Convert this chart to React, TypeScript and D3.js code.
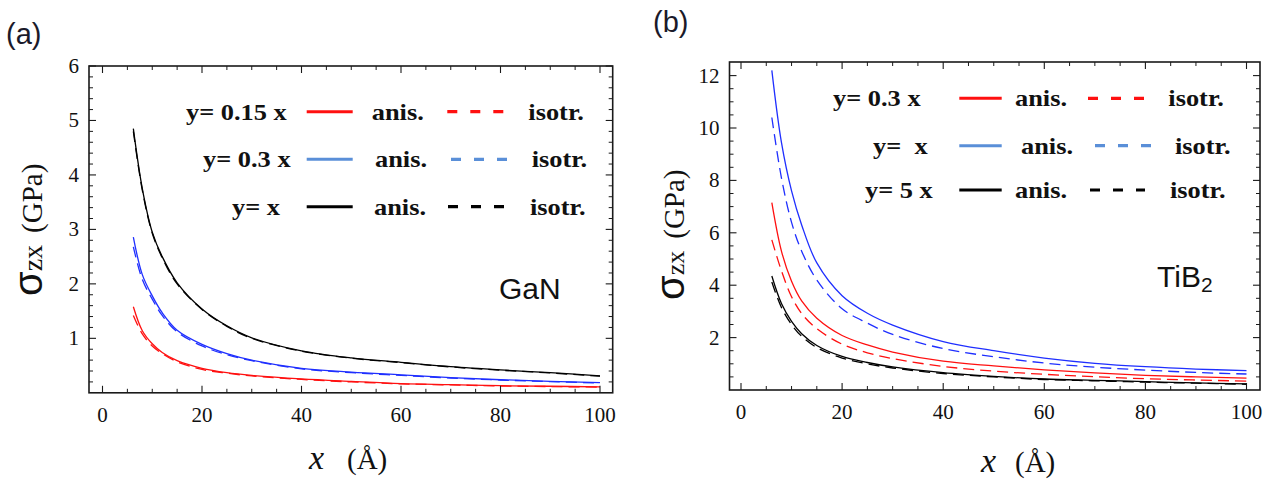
import React from "react";
import * as d3 from "d3";

// ---------------- DATA ----------------
const xTickValues = [0, 20, 40, 60, 80, 100];
const ganYTickValues = [1, 2, 3, 4, 5, 6];
const tib2YTickValues = [2, 4, 6, 8, 10, 12];

// Panel (a) GaN
const ganX = [6.2, 8, 10, 12, 15, 20, 25, 30, 40, 50, 60, 70, 80, 90, 100];
const ganRedAnis = [1.58, 1.14, 0.9, 0.74, 0.59, 0.45, 0.37, 0.32, 0.255, 0.21, 0.17, 0.15, 0.13, 0.12, 0.11];
const ganRedIso = [1.42, 1.08, 0.86, 0.72, 0.57, 0.43, 0.36, 0.31, 0.245, 0.2, 0.165, 0.145, 0.125, 0.115, 0.105];
const ganBlueAnis = [2.86, 2.17, 1.78, 1.47, 1.15, 0.89, 0.72, 0.6, 0.45, 0.38, 0.33, 0.28, 0.24, 0.21, 0.185];
const ganBlueIso = [2.68, 2.08, 1.72, 1.42, 1.12, 0.86, 0.7, 0.59, 0.44, 0.37, 0.32, 0.27, 0.235, 0.205, 0.18];
const ganBlackAnis = [4.85, 3.75, 2.95, 2.5, 2.02, 1.54, 1.23, 1.01, 0.77, 0.64, 0.56, 0.48, 0.42, 0.37, 0.31];
const ganBlackIso = [4.8, 3.72, 2.93, 2.48, 2.0, 1.53, 1.22, 1.0, 0.765, 0.635, 0.555, 0.475, 0.415, 0.365, 0.305];

// Panel (b) TiB2
const tibX = [6.1, 8, 10, 12, 15, 20, 25, 30, 40, 50, 60, 70, 80, 90, 100];
const tibRedAnis = [7.15, 5.3, 4.15, 3.4, 2.74, 2.08, 1.72, 1.45, 1.1, 0.92, 0.77, 0.65, 0.56, 0.5, 0.45];
const tibRedIso = [5.73, 4.55, 3.56, 2.92, 2.34, 1.75, 1.42, 1.2, 0.9, 0.72, 0.6, 0.51, 0.43, 0.38, 0.34];
const tibBlueAnis = [12.2, 9.45, 7.6, 6.3, 4.85, 3.6, 2.93, 2.48, 1.85, 1.5, 1.22, 1.02, 0.89, 0.8, 0.74];
const tibBlueIso = [10.4, 8.1, 6.4, 5.3, 4.2, 3.1, 2.55, 2.12, 1.58, 1.27, 1.03, 0.87, 0.76, 0.67, 0.61];
const tibBlackAnis = [4.35, 3.3, 2.62, 2.15, 1.7, 1.28, 1.05, 0.88, 0.66, 0.52, 0.42, 0.37, 0.32, 0.27, 0.23];
const tibBlackIso = [4.12, 3.15, 2.5, 2.05, 1.62, 1.22, 1.0, 0.84, 0.63, 0.5, 0.4, 0.35, 0.3, 0.26, 0.22];

const ganLegendLabels = ["y= 0.15 x", "y= 0.3 x", "y= x"];
const tibLegendLabels = ["y= 0.3 x", "y=  x", "y= 5 x"];
const legendAnisText = "anis.";
const legendIsoText = "isotr.";

// ---------------- STYLE ----------------
const RED = "#ff1010";
const BLUE = "#1f2fff";
const LEGEND_BLUE = "#5a8fd8";
const BLACK = "#000000";
const FRAME = "#1a1a1a";
const SERIF = "'Liberation Serif', 'Times New Roman', serif";
const SANS = "'Liberation Sans', Arial, sans-serif";

type Series = { xs: number[]; ys: number[]; color: string; dashed: boolean };

type PanelProps = {
  frame: { l: number; t: number; r: number; b: number };
  x0: number; x100: number;
  yMax: number; yTop: number; yBottom: number;
  yTicks: number[];
  yMinorStep: number;
  series: Series[];
  legend: {
    labels: string[];
    labelX: number[];
    rowY: number[];
    lineX: [number, number][];
    anisX: number[];
    dashX: [number, number][];
    isoX: number[];
    colors: string[];
  };
  material: React.ReactNode;
};

function LegendText({ x, y, children }: { x: number; y: number; children: React.ReactNode }) {
  return (
    <text
      transform={`translate(${x},${y}) scale(1.1,1)`}
      fontFamily={SERIF}
      fontWeight="bold"
      fontSize={24}
      fill="#111"
      style={{ whiteSpace: "pre" }}
    >
      {children}
    </text>
  );
}

function Panel(p: PanelProps) {
  const { frame } = p;
  const x = d3.scaleLinear().domain([0, 100]).range([p.x0, p.x100]);
  const y = d3.scaleLinear().domain([0, p.yMax]).range([p.yBottom, p.yTop]);
  const xMinor = d3.range(0, 101, 5).filter((v) => v % 20 !== 0);
  const yMinor = d3
    .range(p.yMinorStep, p.yMax + 1e-6, p.yMinorStep)
    .filter((v) => !p.yTicks.some((t) => Math.abs(t - v) < 1e-6))
    .filter((v) => y(v) > frame.t + 1);
  const line = d3
    .line<[number, number]>()
    .x((d) => x(d[0]))
    .y((d) => y(d[1]))
    .curve(d3.curveCatmullRom.alpha(0.5));
  const MAJ = 7;
  const MIN = 4;
  return (
    <g>
      {p.series.map((s, i) => (
        <path
          key={i}
          d={line(s.xs.map((v, j) => [v, s.ys[j]] as [number, number])) || ""}
          fill="none"
          stroke={s.color}
          strokeWidth={1.3}
          strokeDasharray={s.dashed ? "11,6" : undefined}
        />
      ))}
      <rect x={frame.l} y={frame.t} width={frame.r - frame.l} height={frame.b - frame.t} fill="none" stroke={FRAME} strokeWidth={1.6} />
      {xTickValues.map((v) => (
        <g key={"xt" + v}>
          <line x1={x(v)} x2={x(v)} y1={frame.b} y2={frame.b - MAJ} stroke={FRAME} strokeWidth={1.1} />
          <line x1={x(v)} x2={x(v)} y1={frame.t} y2={frame.t + MAJ} stroke={FRAME} strokeWidth={1.1} />
          <text x={x(v)} y={frame.b + 29} textAnchor="middle" fontFamily={SERIF} fontSize={21} fill="#111">
            {v}
          </text>
        </g>
      ))}
      {xMinor.map((v) => (
        <g key={"xm" + v}>
          <line x1={x(v)} x2={x(v)} y1={frame.b} y2={frame.b - MIN} stroke={FRAME} strokeWidth={1} />
          <line x1={x(v)} x2={x(v)} y1={frame.t} y2={frame.t + MIN} stroke={FRAME} strokeWidth={1} />
        </g>
      ))}
      {p.yTicks.map((v) => (
        <g key={"yt" + v}>
          <line x1={frame.l} x2={frame.l + MAJ} y1={y(v)} y2={y(v)} stroke={FRAME} strokeWidth={1.1} />
          <line x1={frame.r} x2={frame.r - MAJ} y1={y(v)} y2={y(v)} stroke={FRAME} strokeWidth={1.1} />
          <text x={frame.l - 10} y={y(v) + 7} textAnchor="end" fontFamily={SERIF} fontSize={21} fill="#111">
            {v}
          </text>
        </g>
      ))}
      {yMinor.map((v) => (
        <g key={"ym" + v}>
          <line x1={frame.l} x2={frame.l + MIN} y1={y(v)} y2={y(v)} stroke={FRAME} strokeWidth={1} />
          <line x1={frame.r} x2={frame.r - MIN} y1={y(v)} y2={y(v)} stroke={FRAME} strokeWidth={1} />
        </g>
      ))}
      {p.legend.labels.map((lab, i) => {
        const ry = p.legend.rowY[i];
        const c = p.legend.colors[i];
        return (
          <g key={"lg" + i}>
            <LegendText x={p.legend.labelX[i]} y={ry + 8}>{lab}</LegendText>
            <line x1={p.legend.lineX[i][0]} x2={p.legend.lineX[i][1]} y1={ry} y2={ry} stroke={c} strokeWidth={3} />
            <LegendText x={p.legend.anisX[i]} y={ry + 8}>{legendAnisText}</LegendText>
            <line x1={p.legend.dashX[i][0]} x2={p.legend.dashX[i][1]} y1={ry} y2={ry} stroke={c} strokeWidth={3.2} strokeDasharray="10,13" />
            <LegendText x={p.legend.isoX[i]} y={ry + 8}>{legendIsoText}</LegendText>
          </g>
        );
      })}
      {p.material}
    </g>
  );
}

export default function App() {
  const ganSeries: Series[] = [
    { xs: ganX, ys: ganRedAnis, color: RED, dashed: false },
    { xs: ganX, ys: ganRedIso, color: RED, dashed: true },
    { xs: ganX, ys: ganBlueAnis, color: BLUE, dashed: false },
    { xs: ganX, ys: ganBlueIso, color: BLUE, dashed: true },
    { xs: ganX, ys: ganBlackAnis, color: BLACK, dashed: false },
    { xs: ganX, ys: ganBlackIso, color: BLACK, dashed: true },
  ];
  const tibSeries: Series[] = [
    { xs: tibX, ys: tibRedAnis, color: RED, dashed: false },
    { xs: tibX, ys: tibRedIso, color: RED, dashed: true },
    { xs: tibX, ys: tibBlueAnis, color: BLUE, dashed: false },
    { xs: tibX, ys: tibBlueIso, color: BLUE, dashed: true },
    { xs: tibX, ys: tibBlackAnis, color: BLACK, dashed: false },
    { xs: tibX, ys: tibBlackIso, color: BLACK, dashed: true },
  ];
  return (
    <svg width={1274} height={479} style={{ position: "absolute", left: 0, top: 0, background: "#fff" }}>
      <rect x={0} y={0} width={1274} height={479} fill="#fff" />
      {/* Panel (a) */}
      <text x={6} y={44} fontFamily={SANS} fontSize={29} fill="#1a1a2a">(a)</text>
      <Panel
        frame={{ l: 89, t: 66, r: 612.7, b: 392.8 }}
        x0={102.5}
        x100={600}
        yMax={6}
        yTop={66}
        yBottom={392.8}
        yTicks={ganYTickValues}
        yMinorStep={0.2}
        series={ganSeries}
        legend={{
          labels: ganLegendLabels,
          labelX: [186, 203, 232],
          rowY: [111.7, 159.3, 206.7],
          lineX: [[306.7, 352.7], [306.7, 352.7], [306.7, 352.7]],
          anisX: [371.7, 375, 374],
          dashX: [[447.3, 505], [451, 509], [448, 505]],
          isoX: [528.3, 531.7, 530],
          colors: [RED, LEGEND_BLUE, BLACK],
        }}
        material={
          <text x={499} y={299} fontFamily={SANS} fontSize={30} fill="#111">GaN</text>
        }
      />
      <g transform="translate(42,296) rotate(-90)">
        <text fontFamily={SANS} fontSize={40} fill="#111">
          σ
          <tspan fontFamily={SERIF} fontSize={28}>zx</tspan>
          <tspan fontFamily={SERIF} fontSize={29} dx={12}>(GPa)</tspan>
        </text>
      </g>
      <text y={469} fontFamily={SERIF} fill="#111">
        <tspan x={309} fontStyle="italic" fontSize={34}>x</tspan>
        <tspan x={347} fontSize={29}>(Å)</tspan>
      </text>

      {/* Panel (b) */}
      <text x={653} y={32} fontFamily={SANS} fontSize={29} fill="#1a1a2a">(b)</text>
      <Panel
        frame={{ l: 729.5, t: 62, r: 1260, b: 390 }}
        x0={741}
        x100={1246.5}
        yMax={12.5}
        yTop={62.5}
        yBottom={390}
        yTicks={tib2YTickValues}
        yMinorStep={0.5}
        series={tibSeries}
        legend={{
          labels: tibLegendLabels,
          labelX: [833, 873, 865],
          rowY: [98.3, 145.7, 190],
          lineX: [[959.3, 1001.7], [959.3, 1001.7], [959.3, 1001.7]],
          anisX: [1015, 1021, 1015],
          dashX: [[1088, 1145], [1095, 1152], [1090, 1145]],
          isoX: [1168.3, 1175, 1170],
          colors: [RED, LEGEND_BLUE, BLACK],
        }}
        material={
          <text x={1157} y={287} fontFamily={SANS} fontSize={30} fill="#111">
            TiB<tspan fontSize={21} dy={5}>2</tspan>
          </text>
        }
      />
      <g transform="translate(684,300) rotate(-90)">
        <text fontFamily={SANS} fontSize={40} fill="#111">
          σ
          <tspan fontFamily={SERIF} fontSize={26}>zx</tspan>
          <tspan fontFamily={SERIF} fontSize={29} dx={12}>(GPa)</tspan>
        </text>
      </g>
      <text y={472} fontFamily={SERIF} fill="#111">
        <tspan x={981} fontStyle="italic" fontSize={34}>x</tspan>
        <tspan x={1015} fontSize={29}>(Å)</tspan>
      </text>
    </svg>
  );
}
